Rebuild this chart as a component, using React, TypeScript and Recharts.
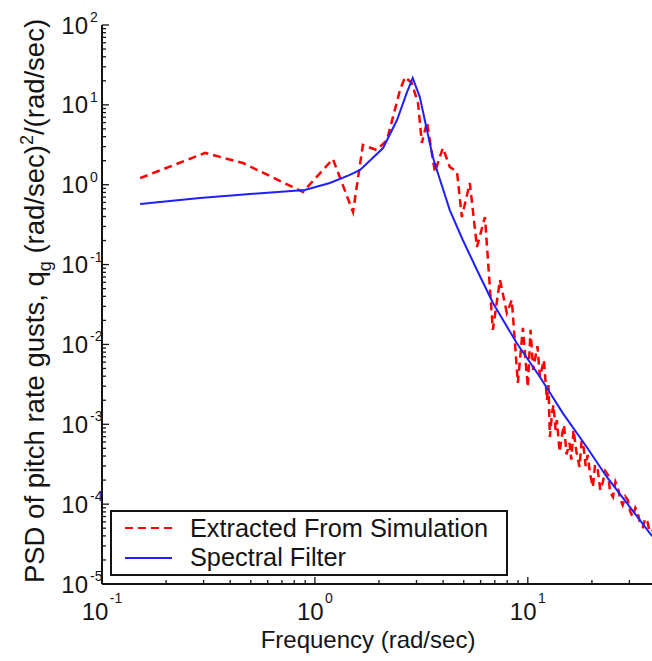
import { LineChart, Line, XAxis, YAxis, Legend } from "recharts";

// Extracted From Simulation (red dashed)
const simFreq = [
  0.151, 0.305, 0.459, 0.879, 1.215, 1.51, 1.68, 1.95, 2.18, 2.51, 2.65, 2.85,
  3.05, 3.18, 3.36, 3.66, 3.99, 4.3, 4.65, 4.9, 5.34, 5.77, 6.29, 6.85, 7.4,
  7.97, 8.41, 8.98, 9.48, 10.0, 10.3, 10.6, 10.9, 11.1, 11.4, 11.9, 12.3, 12.5,
  12.7, 13.0, 13.2, 13.5, 13.7, 14.1, 14.5, 14.8, 15.2, 15.7, 16.0, 16.4, 16.9,
  17.5, 17.9, 18.3, 18.7, 19.1, 19.6, 20.2, 20.7, 21.3, 21.9, 22.5, 23.1, 23.8,
  24.4, 25.1, 25.8, 26.5, 27.2, 27.9, 28.7, 29.5, 30.3, 31.1, 32.0, 32.8, 33.7,
  34.7, 35.6, 36.5, 37.3, 38.2, 39.2,
];
const simPsd = [
  1.21, 2.5, 1.87, 0.811, 2.1, 0.455, 3.14, 2.72, 3.63, 15.3, 22.3, 18.8, 10.5,
  3.33, 6.1, 1.44, 2.88, 1.67, 1.44, 0.394, 1.05, 0.166, 0.394, 0.0152, 0.0641,
  0.0248, 0.036, 0.00329, 0.0161, 0.00293, 0.0152, 0.0048, 0.00738, 0.0095,
  0.00391, 0.00638, 0.00201, 0.0031, 6.93e-4, 0.0014, 0.00175, 8.5e-4, 0.00113,
  4.5e-4, 7.5e-4, 9.8e-4, 4.2e-4, 5.83e-4, 3.6e-4, 8.49e-4, 4.6e-4, 2.92e-4,
  6.2e-4, 5.05e-4, 3.0e-4, 4.13e-4, 2.4e-4, 1.64e-4, 3.1e-4, 2.68e-4, 1.5e-4,
  1.89e-4, 2.6e-4, 2.32e-4, 1.4e-4, 1.23e-4, 1.9e-4, 1.59e-4, 1.15e-4, 9.75e-5,
  1.25e-4, 1.13e-4, 8.0e-5, 6.9e-5, 9.0e-5, 7.98e-5, 5.6e-5, 5.18e-5, 6.6e-5,
  5.98e-5, 4.6e-5, 4.48e-5, 5.0e-5,
];

// Spectral Filter (blue solid)
const filterFreq = [
  0.151, 0.288, 0.496, 0.897, 1.175, 1.45, 1.63, 2.09, 2.43, 2.7, 2.88, 3.11,
  3.32, 3.58, 3.74, 4.3, 4.95, 5.77, 6.86, 8.87, 11.4, 14.6, 18.9, 23.5, 29.2,
  37.4, 40,
];
const filterPsd = [
  0.574, 0.682, 0.765, 0.859, 1.05, 1.32, 1.53, 2.88, 6.46, 14.1, 21.7, 12.5,
  5.6, 2.22, 1.53, 0.482, 0.203, 0.0855, 0.033, 0.0104, 0.00391, 0.00138,
  5.2e-4, 2.19e-4, 1.03e-4, 4.35e-5, 3.5e-5,
];

const xDecades = [0.1, 1, 10];
const yDecades = [1e-5, 1e-4, 1e-3, 1e-2, 1e-1, 1, 10];
const X_MAX = 40;

const simData = simFreq.map((freq, i) => ({ freq, psd: simPsd[i] }));
const filterData = filterFreq.map((freq, i) => ({ freq, psd: filterPsd[i] }));

const minorTicks = (decades: number[], max: number) =>
  decades
    .flatMap((d) => [1, 2, 3, 4, 5, 6, 7, 8, 9].map((k) => d * k))
    .concat([decades[decades.length - 1] * 10])
    .filter((v) => v <= max * 1.0001);

const xTicks = minorTicks(xDecades, X_MAX);
const yTicks = minorTicks(yDecades, 100);

const FONT = '"Liberation Sans", Arial, Helvetica, sans-serif';
const INK = "#141414";
const RED = "#ff0000";
const BLUE = "#1f1fff";

const isDecade = (v: number) =>
  Math.abs(Math.log10(v) - Math.round(Math.log10(v))) < 1e-6;
const expText = (v: number) => String(Math.round(Math.log10(v)));
const expWidth = (s: string) =>
  s.split("").reduce((w, c) => w + (c === "-" ? 4.7 : 7.8), 0);

const MAJOR = 7;
const MINOR = 4;

function BottomTick({ x, y, payload }: any) {
  const v = payload.value;
  const major = isDecade(v);
  const exp = expText(v);
  const w10 = 26.7;
  const start = x - (w10 + 1.5 + expWidth(exp)) / 2;
  return (
    <g>
      <line x1={x} x2={x} y1={y} y2={y - (major ? MAJOR : MINOR)} stroke={INK} strokeWidth={1.3} />
      {major && (
        <g fontFamily={FONT} fill={INK}>
          <text x={start} y={y + 36} fontSize={24}>10</text>
          <text x={start + w10 + 1.5} y={y + 19} fontSize={14}>{exp}</text>
        </g>
      )}
    </g>
  );
}

function TopTick({ x, y, payload }: any) {
  const major = isDecade(payload.value);
  return <line x1={x} x2={x} y1={y} y2={y + (major ? MAJOR : MINOR)} stroke={INK} strokeWidth={1.3} />;
}

function LeftTick({ x, y, payload }: any) {
  const v = payload.value;
  const major = isDecade(v);
  return (
    <g>
      <line x1={x} x2={x + (major ? MAJOR : MINOR)} y1={y} y2={y} stroke={INK} strokeWidth={1.3} />
      {major && (
        <g fontFamily={FONT} fill={INK}>
          <text x={x - 14} y={y + 8.5} fontSize={24} textAnchor="end">10</text>
          <text x={x - 12} y={y - 3} fontSize={14}>{expText(v)}</text>
        </g>
      )}
    </g>
  );
}

function RightTick({ x, y, payload }: any) {
  const major = isDecade(payload.value);
  return <line x1={x} x2={x - (major ? MAJOR : MINOR)} y1={y} y2={y} stroke={INK} strokeWidth={1.3} />;
}

function LegendBox({ payload }: any) {
  const items = payload ?? [];
  return (
    <svg width={398} height={66} style={{ display: "block" }}>
      <rect x={1} y={1} width={396} height={64} fill="#fff" stroke={INK} strokeWidth={2} />
      {items.map((it: any, i: number) => (
        <g key={it.value}>
          <line
            x1={15}
            x2={62}
            y1={18 + i * 30}
            y2={18 + i * 30}
            stroke={it.color}
            strokeWidth={2}
            strokeDasharray={it.payload?.strokeDasharray}
          />
          <text x={80} y={27 + i * 29} fontSize={25.3} fontFamily={FONT} fill={INK}>
            {it.value}
          </text>
        </g>
      ))}
    </svg>
  );
}

export default function App() {
  const axisLine = { stroke: INK, strokeWidth: 2 };
  return (
    <div
      style={{
        position: "absolute",
        left: 0,
        top: 0,
        width: 652,
        height: 661,
        overflow: "hidden",
        background: "#fff",
      }}
    >
      <LineChart width={660} height={661} margin={{ top: 25, right: 4, bottom: 0, left: 0 }}>
        <XAxis
          dataKey="freq"
          type="number"
          scale="log"
          domain={[0.1, X_MAX]}
          allowDataOverflow
          ticks={xTicks}
          interval={0}
          tickSize={0}
          tickMargin={0}
          tick={<BottomTick />}
          axisLine={axisLine}
          height={77}
        />
        <XAxis
          xAxisId="top"
          orientation="top"
          dataKey="freq"
          type="number"
          scale="log"
          domain={[0.1, X_MAX]}
          allowDataOverflow
          ticks={xTicks}
          interval={0}
          tickSize={0}
          tickMargin={0}
          tick={<TopTick />}
          axisLine={axisLine}
          height={0}
        />
        <YAxis
          type="number"
          scale="log"
          domain={[1e-5, 100]}
          allowDataOverflow
          ticks={yTicks}
          interval={0}
          tickSize={0}
          tickMargin={0}
          tick={<LeftTick />}
          axisLine={axisLine}
          width={102}
        />
        <YAxis
          yAxisId="right"
          orientation="right"
          type="number"
          scale="log"
          domain={[1e-5, 100]}
          allowDataOverflow
          ticks={yTicks}
          interval={0}
          tickSize={0}
          tickMargin={0}
          tick={<RightTick />}
          axisLine={axisLine}
          width={0}
        />
        <Line
          data={simData}
          dataKey="psd"
          name="Extracted From Simulation"
          stroke={RED}
          strokeWidth={2.5}
          strokeDasharray="8 5"
          dot={false}
          type="linear"
          isAnimationActive={false}
        />
        <Line
          data={filterData}
          dataKey="psd"
          name="Spectral Filter"
          stroke={BLUE}
          strokeWidth={2}
          dot={false}
          type="linear"
          isAnimationActive={false}
        />
        <Legend
          layout="vertical"
          align="center"
          verticalAlign="middle"
          content={<LegendBox />}
          wrapperStyle={{ left: 110, top: 510, width: 398, height: 66 }}
        />
      </LineChart>
      <svg
        width={652}
        height={661}
        style={{ position: "absolute", left: 0, top: 0, pointerEvents: "none" }}
        fontFamily={FONT}
        fill={INK}
      >
        <text x={368} y={648} fontSize={24} textAnchor="middle">
          Frequency (rad/sec)
        </text>
        <text transform="translate(44,301) rotate(-90)" fontSize={27.5} textAnchor="middle">
          PSD of pitch rate gusts, q
          <tspan dy={7} fontSize={18}>g</tspan>
          <tspan dy={-7}> (rad/sec)</tspan>
          <tspan dy={-11} fontSize={18}>2</tspan>
          <tspan dy={11}>/(rad/sec)</tspan>
        </text>
      </svg>
    </div>
  );
}
